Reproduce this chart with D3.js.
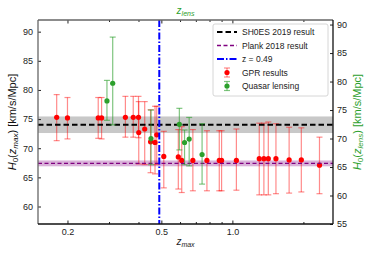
<!DOCTYPE html>
<html>
<head>
<meta charset="utf-8">
<script src="https://cdn.jsdelivr.net/npm/d3@7"></script>
<style>
body { margin: 0; background: #fff; }
text { font-family: "Liberation Sans", Arial, sans-serif; }
</style>
</head>
<body>
<script>
// GPR results (z_max, H0 and the ends of the error bar)
var gprZ   = [0.18, 0.20, 0.27, 0.279, 0.352, 0.38, 0.40, 0.401, 0.425, 0.45, 0.47, 0.478, 0.512, 0.59, 0.61, 0.68, 0.78, 0.88, 0.90, 1.04, 1.30, 1.36, 1.42, 1.53, 1.74, 1.96, 2.34];
var gprH   = [75.3, 75.2, 75.2, 75.2, 75.3, 75.3, 75.3, 72.7, 73.3, 71.1, 71.0, 72.3, 68.6, 68.5, 67.9, 67.9, 67.9, 67.9, 67.9, 67.9, 68.2, 68.2, 68.2, 68.2, 68.0, 68.0, 67.1];
var gprTop = [79.2, 78.7, 78.7, 78.7, 78.9, 78.9, 78.9, 78.0, 78.0, 76.6, 77.2, 77.2, 72.9, 73.2, 73.7, 73.2, 73.0, 73.0, 73.0, 73.3, 74.3, 74.3, 74.5, 74.2, 73.6, 73.5, 71.9];
var gprBot = [71.3, 71.6, 71.7, 71.6, 71.9, 71.9, 71.8, 67.3, 67.2, 65.8, 65.6, 67.2, 63.2, 63.0, 62.4, 62.7, 62.7, 62.7, 62.7, 62.8, 62.0, 62.0, 62.0, 62.2, 62.3, 62.5, 62.2];

// quasar lensing (z_lens)
var lensZ   = [0.294, 0.311, 0.452, 0.596, 0.627, 0.656, 0.744];
var lensH   = [76.6, 79.7, 70.0, 72.5, 69.3, 69.9, 67.2];
var lensTop = [80.2, 87.8, 75.0, 75.3, 71.5, 73.7, 72.6];
var lensBot = [73.2, 72.4, 65.4, 68.0, 65.4, 65.2, 62.0];

// reference values
var shoes = [74.03, 1.42];
var planck = [67.4, 0.5];
var zCut = 0.49;

// ticks
var xMajor = [0.2, 0.5, 1.0];
var xMinor = [0.3, 0.4, 0.6, 0.7, 0.8, 0.9, 2.0];
var leftTicks = [60, 65, 70, 75, 80, 85, 90];
var rightTicks = [55, 60, 65, 70, 75, 80, 85, 90];

var legendNames = ["SH0ES 2019 result", "Plank 2018 result", "z = 0.49", "GPR results", "Quasar lensing"];

var w = 371, h = 255;
var mLeft = 38, mRight = 333, mTop = 20, mBottom = 224;
var green = "#2ca02c";

var svg = d3.select("body").append("svg")
  .attr("width", w)
  .attr("height", h);

var x = d3.scaleLog().domain([0.15, 2.67]).range([mLeft, mRight]);
var yL = d3.scaleLinear().domain([57, 92]).range([mBottom, mTop]);
var yR = d3.scaleLinear().domain([55, 90.8]).range([mBottom, mTop]);

// bands
svg.append("rect")
  .attr("x", mLeft).attr("width", mRight - mLeft)
  .attr("y", yL(shoes[0] + shoes[1]))
  .attr("height", yL(shoes[0] - shoes[1]) - yL(shoes[0] + shoes[1]))
  .attr("fill", "#c8c8c8");
svg.append("rect")
  .attr("x", mLeft).attr("width", mRight - mLeft)
  .attr("y", yL(planck[0] + planck[1]))
  .attr("height", yL(planck[0] - planck[1]) - yL(planck[0] + planck[1]))
  .attr("fill", "#800080").attr("opacity", 0.3);

// draws error bars + points
function errPoints(zs, hs, tops, bots, yScale, col, barOpacity) {
  var g = svg.append("g");
  zs.forEach(function(z, i) {
    var cx = x(z);
    g.append("line")
      .attr("x1", cx).attr("x2", cx)
      .attr("y1", yScale(tops[i])).attr("y2", yScale(bots[i]))
      .attr("stroke", col).attr("stroke-width", 1.2).attr("opacity", barOpacity);
    [tops[i], bots[i]].forEach(function(v) {
      g.append("line")
        .attr("x1", cx - 3).attr("x2", cx + 3)
        .attr("y1", yScale(v)).attr("y2", yScale(v))
        .attr("stroke", col).attr("stroke-width", 1.2).attr("opacity", barOpacity);
    });
  });
  g.selectAll("circle")
    .data(zs)
    .enter()
    .append("circle")
    .attr("cx", function(d) { return x(d); })
    .attr("cy", function(d, i) { return yScale(hs[i]); })
    .attr("r", 2.6)
    .attr("fill", col);
}

errPoints(gprZ, gprH, gprTop, gprBot, yL, "#ff0000", 0.45);

// reference lines
svg.append("line")
  .attr("x1", mLeft).attr("x2", mRight)
  .attr("y1", yL(shoes[0])).attr("y2", yL(shoes[0]))
  .attr("stroke", "#000").attr("stroke-width", 1.8).attr("stroke-dasharray", "5.5,3");
svg.append("line")
  .attr("x1", mLeft).attr("x2", mRight)
  .attr("y1", yL(planck[0])).attr("y2", yL(planck[0]))
  .attr("stroke", "#800080").attr("stroke-width", 1.3).attr("stroke-dasharray", "4,2.5");
svg.append("line")
  .attr("x1", x(zCut)).attr("x2", x(zCut))
  .attr("y1", mTop).attr("y2", mBottom)
  .attr("stroke", "#0000ff").attr("stroke-width", 2).attr("stroke-dasharray", "7,2,1.5,2");

errPoints(lensZ, lensH, lensTop, lensBot, yR, green, 0.6);

// axes (ticks pointing inward)
function styleAxis(g) {
  g.select(".domain").remove();
  g.selectAll("line").attr("stroke", "#222");
  g.selectAll("text").attr("font-size", 9).attr("fill", "#222");
}

svg.append("g")
  .attr("transform", "translate(0," + mBottom + ")")
  .call(d3.axisBottom(x).tickValues(xMajor).tickSize(-3.5).tickPadding(5).tickFormat(d3.format(".1f")))
  .call(styleAxis);
svg.append("g")
  .attr("transform", "translate(0," + mBottom + ")")
  .call(d3.axisBottom(x).tickValues(xMinor).tickSize(-2).tickFormat(""))
  .call(styleAxis);
svg.append("g")
  .attr("transform", "translate(0," + mTop + ")")
  .call(d3.axisTop(x).tickValues(xMajor).tickSize(-3.5).tickFormat(""))
  .call(styleAxis);
svg.append("g")
  .attr("transform", "translate(0," + mTop + ")")
  .call(d3.axisTop(x).tickValues(xMinor).tickSize(-2).tickFormat(""))
  .call(styleAxis);
svg.append("g")
  .attr("transform", "translate(" + mLeft + ",0)")
  .call(d3.axisLeft(yL).tickValues(leftTicks).tickSize(-3).tickPadding(5))
  .call(styleAxis);
svg.append("g")
  .attr("transform", "translate(" + mRight + ",0)")
  .call(d3.axisRight(yR).tickValues(rightTicks).tickSize(-3).tickPadding(4))
  .call(styleAxis);

// frame
svg.append("line").attr("x1", mLeft).attr("x2", mRight).attr("y1", mTop).attr("y2", mTop)
  .attr("stroke", "#666").attr("stroke-width", 1.3);
svg.append("line").attr("x1", mLeft).attr("x2", mLeft).attr("y1", mTop).attr("y2", mBottom)
  .attr("stroke", "#666").attr("stroke-width", 1.3);
svg.append("line").attr("x1", mLeft).attr("x2", mRight).attr("y1", mBottom).attr("y2", mBottom)
  .attr("stroke", "#111").attr("stroke-width", 1.3);
svg.append("line").attr("x1", mRight).attr("x2", mRight).attr("y1", mTop).attr("y2", mBottom)
  .attr("stroke", "#111").attr("stroke-width", 1.3);

// axis labels
var xl = svg.append("text")
  .attr("x", (mLeft + mRight) / 2).attr("y", 245)
  .attr("text-anchor", "middle").attr("font-size", 10).attr("fill", "#222");
xl.append("tspan").attr("font-style", "italic").text("z");
xl.append("tspan").attr("font-style", "italic").attr("font-size", 7).attr("dy", 2).text("max");

var tl = svg.append("text")
  .attr("x", (mLeft + mRight) / 2).attr("y", 14)
  .attr("text-anchor", "middle").attr("font-size", 10).attr("fill", green);
tl.append("tspan").attr("font-style", "italic").text("z");
tl.append("tspan").attr("font-style", "italic").attr("font-size", 7).attr("dy", 2).text("lens");

function h0Label(xpos, sub, col) {
  var t = svg.append("text")
    .attr("transform", "translate(" + xpos + "," + ((mTop + mBottom) / 2) + ") rotate(-90)")
    .attr("text-anchor", "middle").attr("font-size", 11).attr("fill", col);
  t.append("tspan").attr("font-style", "italic").text("H");
  t.append("tspan").attr("font-size", 8).attr("dy", 2).text("0");
  t.append("tspan").attr("dy", -2).text("(");
  t.append("tspan").attr("font-style", "italic").text("z");
  t.append("tspan").attr("font-style", "italic").attr("font-size", 8).attr("dy", 2).text(sub);
  t.append("tspan").attr("dy", -2).text(") [km/s/Mpc]");
}
h0Label(16, "max", "#111");
h0Label(361, "lens", green);

// legend
var lx = 213, ly = 24;
svg.append("rect")
  .attr("x", lx).attr("y", ly).attr("width", 115).attr("height", 72)
  .attr("rx", 2).attr("fill", "#fff").attr("fill-opacity", 0.85)
  .attr("stroke", "#ccc").attr("stroke-width", 0.8);

var legY = legendNames.map(function(d, i) { return 32 + i * 13.5; });
var sx1 = 217, sx2 = 237, smid = 227;

svg.append("line").attr("x1", sx1).attr("x2", sx2).attr("y1", legY[0]).attr("y2", legY[0])
  .attr("stroke", "#000").attr("stroke-width", 1.8).attr("stroke-dasharray", "5.5,3");
svg.append("line").attr("x1", sx1).attr("x2", sx2).attr("y1", legY[1]).attr("y2", legY[1])
  .attr("stroke", "#800080").attr("stroke-width", 1.3).attr("stroke-dasharray", "4,2.5");
svg.append("line").attr("x1", sx1).attr("x2", sx2).attr("y1", legY[2]).attr("y2", legY[2])
  .attr("stroke", "#0000ff").attr("stroke-width", 2).attr("stroke-dasharray", "7,2,1.5,2");

[["#ff0000", 0.45, legY[3]], [green, 0.6, legY[4]]].forEach(function(e) {
  var g = svg.append("g");
  g.append("line").attr("x1", smid).attr("x2", smid).attr("y1", e[2] - 4.5).attr("y2", e[2] + 4.5)
    .attr("stroke", e[0]).attr("stroke-width", 1.2).attr("opacity", e[1]);
  [-4.5, 4.5].forEach(function(o) {
    g.append("line").attr("x1", smid - 3).attr("x2", smid + 3).attr("y1", e[2] + o).attr("y2", e[2] + o)
      .attr("stroke", e[0]).attr("stroke-width", 1.2).attr("opacity", e[1]);
  });
  g.append("circle").attr("cx", smid).attr("cy", e[2]).attr("r", 2.6).attr("fill", e[0]);
});

svg.selectAll(".legtext")
  .data(legendNames)
  .enter()
  .append("text")
  .attr("x", 242)
  .attr("y", function(d, i) { return legY[i] + 3; })
  .attr("font-size", 8.5)
  .attr("fill", "#222")
  .text(function(d) { return d; });
</script>
</body>
</html>
